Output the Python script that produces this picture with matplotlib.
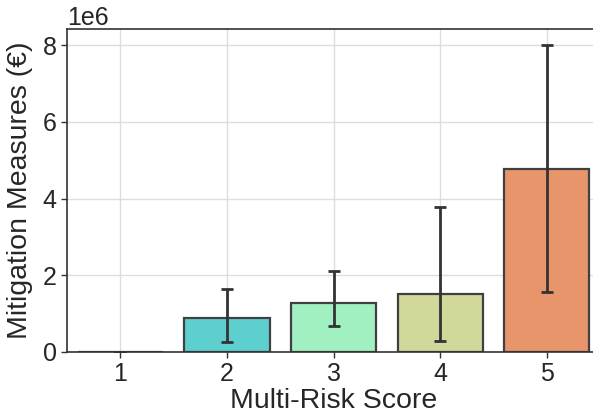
import matplotlib
matplotlib.use('Agg')
import seaborn as sns
from matplotlib import pyplot as plt

# Mean mitigation cost per multi-risk score, with error bar limits
scores = ['1', '2', '3', '4', '5']
means = [0.01e6, 0.89e6, 1.28e6, 1.51e6, 4.78e6]
err_low = [0.01e6, 0.25e6, 0.68e6, 0.29e6, 1.56e6]
err_high = [0.01e6, 1.65e6, 2.10e6, 3.79e6, 8.00e6]
colors = ['#8f8fe8', '#5dcfcf', '#a1f0c1', '#d2d89a', '#e8956c']

sns.set_style('whitegrid')
plt.rcParams['font.family'] = ['Liberation Sans', 'DejaVu Sans']

fig = plt.figure(figsize=(5.93, 4.17), dpi=100)
ax = fig.add_axes([0.113, 0.156, 0.899, 0.774])

ax.bar(scores, means, width=0.8, color=colors, edgecolor='#404040', linewidth=1.6, zorder=2)
yerr = [[m - lo for m, lo in zip(means, err_low)], [hi - m for m, hi in zip(means, err_high)]]
ax.errorbar(scores, means, yerr=yerr, fmt='none', ecolor='#333333', elinewidth=2, capsize=4.3, capthick=2, zorder=3)

ax.set_xlim(-0.5, 4.5)
ax.set_ylim(0, 8.42e6)
ax.set_yticks([0, 2e6, 4e6, 6e6, 8e6])
ax.ticklabel_format(axis='y', style='sci', scilimits=(0, 0))
ax.yaxis.get_offset_text().set_fontsize(18)
ax.tick_params(axis='both', labelsize=18, length=4, width=1, color='#333333', left=True, bottom=True)
ax.set_xlabel('Multi-Risk Score', fontsize=20.5, labelpad=1)
ax.set_ylabel('Mitigation Measures (€)', fontsize=20.5, labelpad=7)
ax.grid(color='#dddddd', linewidth=1)
ax.set_axisbelow(True)
for s in ax.spines.values():
    s.set_color('#333333')
    s.set_linewidth(1.2)

plt.savefig('out.png', dpi=100)
